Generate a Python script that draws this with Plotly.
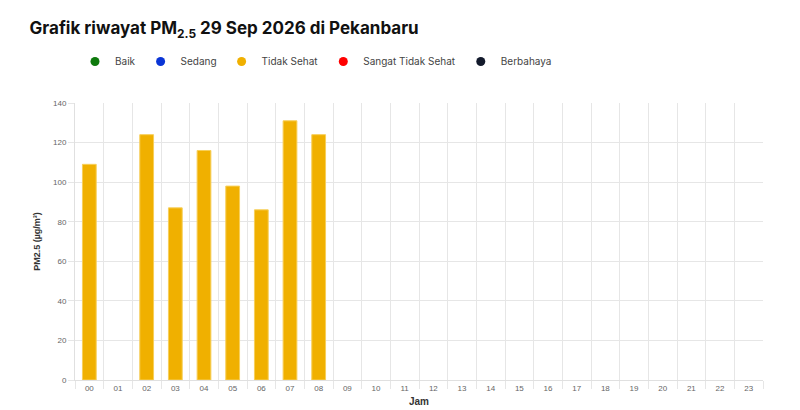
import plotly.graph_objects as go

hours = [f"{h:02d}" for h in range(24)]
pm25 = [109, None, 124, 87, 116, 98, 86, 131, 124] + [None] * 15

legend_names = ["Baik", "Sedang", "Tidak Sehat", "Sangat Tidak Sehat", "Berbahaya"]
legend_colors = ["#0e7a0d", "#0a35d6", "#f0b000", "#ff0000", "#131a2c"]

fig = go.Figure()

fig.add_trace(go.Bar(
    x=hours, y=pm25, marker_color="#f0b000",
    marker_line_color="#f7cf5a", marker_line_width=1,
    width=0.48, showlegend=False,
))

# dummy traces just for the legend dots
for name, color in zip(legend_names, legend_colors):
    fig.add_trace(go.Scatter(
        x=[None], y=[None], mode="markers", name=name,
        marker=dict(color=color, size=9, symbol="circle"),
    ))

fig.update_layout(
    width=800, height=410,
    margin=dict(l=67, r=45, t=95, b=34),
    paper_bgcolor="white", plot_bgcolor="white",
    font=dict(family="Inter, Roboto, sans-serif", color="#555"),
    title=dict(
        text="Grafik riwayat PM<sub>2.5</sub> 29 Sep 2026 di Pekanbaru",
        x=0.027, y=0.95, xanchor="left", yanchor="middle", yref="container",
        font=dict(size=17, color="#111", family="Inter, sans-serif", weight="bold"),
    ),
    legend=dict(
        orientation="h", x=0.0, y=1.15, xanchor="left", yanchor="middle",
        font=dict(size=10, color="#444"), itemwidth=30,
    ),
    bargap=0.5,
)

fig.update_xaxes(
    type="category", categoryorder="array", categoryarray=hours,
    tickson="boundaries", showgrid=True, gridcolor="#e6e6e6",
    ticks="outside", ticklen=8, tickcolor="#e6e6e6",
    tickfont=dict(size=8, color="#666", family="Arial"),
    showline=True, linecolor="#e0e0e0",
    title=dict(text="Jam", font=dict(size=10, color="#333", family="Arial", weight="bold"), standoff=6),
)
fig.update_yaxes(
    range=[0, 140], dtick=20, showgrid=True, gridcolor="#e6e6e6",
    ticks="outside", ticklen=6, tickcolor="#e6e6e6",
    tickfont=dict(size=8, color="#666", family="Arial"),
    zeroline=False, showline=True, linecolor="#e0e0e0",
    title=dict(text="PM2.5 (µg/m³)", font=dict(size=9, color="#333", family="Arial", weight="bold"), standoff=10),
)

fig.write_html("out.html")
